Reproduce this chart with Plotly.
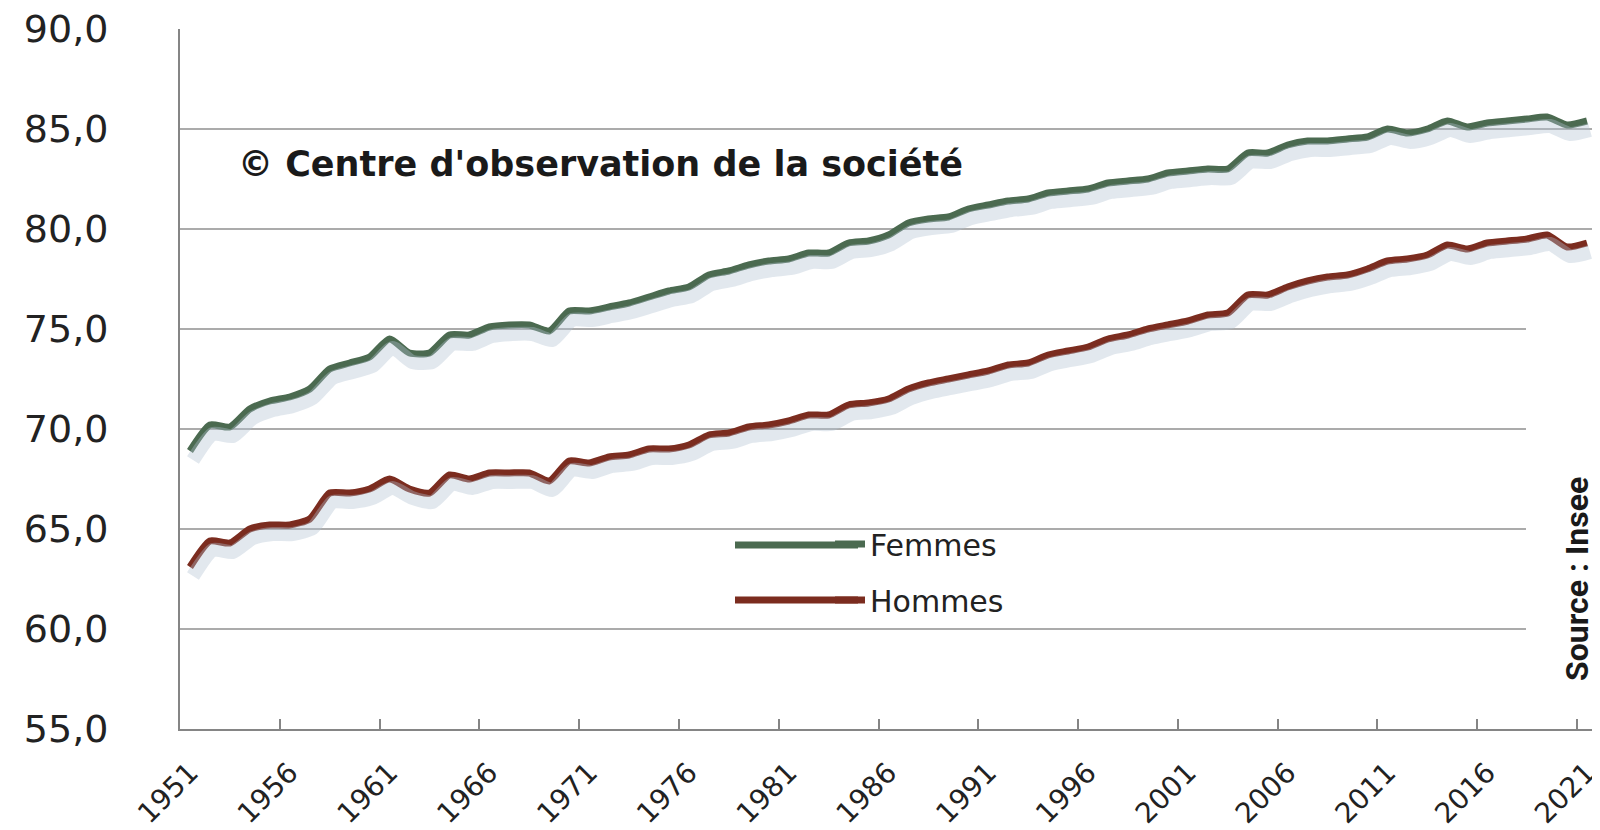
import plotly.graph_objects as go

years = list(range(1951, 2022))
femmes = [68.9, 70.2, 70.1, 71.0, 71.4, 71.6, 72.0, 73.0, 73.3, 73.6,
          74.5, 73.8, 73.8, 74.7, 74.7, 75.1, 75.2, 75.2, 74.9, 75.9,
          75.9, 76.1, 76.3, 76.6, 76.9, 77.1, 77.7, 77.9, 78.2, 78.4,
          78.5, 78.8, 78.8, 79.3, 79.4, 79.7, 80.3, 80.5, 80.6, 81.0,
          81.2, 81.4, 81.5, 81.8, 81.9, 82.0, 82.3, 82.4, 82.5, 82.8,
          82.9, 83.0, 83.0, 83.8, 83.8, 84.2, 84.4, 84.4, 84.5, 84.6,
          85.0, 84.8, 85.0, 85.4, 85.1, 85.3, 85.4, 85.5, 85.6, 85.2,
          85.4]
hommes = [63.1, 64.4, 64.3, 65.0, 65.2, 65.2, 65.5, 66.8, 66.8, 67.0,
          67.5, 67.0, 66.8, 67.7, 67.5, 67.8, 67.8, 67.8, 67.4, 68.4,
          68.3, 68.6, 68.7, 69.0, 69.0, 69.2, 69.7, 69.8, 70.1, 70.2,
          70.4, 70.7, 70.7, 71.2, 71.3, 71.5, 72.0, 72.3, 72.5, 72.7,
          72.9, 73.2, 73.3, 73.7, 73.9, 74.1, 74.5, 74.7, 75.0, 75.2,
          75.4, 75.7, 75.8, 76.7, 76.7, 77.1, 77.4, 77.6, 77.7, 78.0,
          78.4, 78.5, 78.7, 79.2, 79.0, 79.3, 79.4, 79.5, 79.7, 79.1,
          79.3]
tick_labels = [str(y) for y in range(1951, 2022, 5)]
series_names = ["Femmes", "Hommes"]
colors = ["#4b6a50", "#7b2c1f"]

FONT = "DejaVu Sans, Verdana, sans-serif"
X0, X1 = 1950.5, 2021.5
Y0, Y1 = 55, 90

# plot area in pixels
PL, PR, PT, PB = 172, 1589, 21, 721
def px(x):
    return (x - PL) / (PR - PL)
def py(y):
    return (PB - y) / (PB - PT)

fig = go.Figure()

# soft shadows (same data on slightly shifted hidden axes)
for vals in (femmes, hommes):
    fig.add_trace(go.Scatter(x=years, y=vals, mode="lines", xaxis="x2", yaxis="y2",
                             line=dict(color="rgba(180,195,210,0.38)", width=14, shape="spline", smoothing=0.6),
                             showlegend=False, hoverinfo="skip"))

for name, vals, col in zip(series_names, (femmes, hommes), colors):
    fig.add_trace(go.Scatter(x=years, y=vals, mode="lines", name=name, legendgroup=name,
                             line=dict(color=col, width=7, shape="spline", smoothing=0.6)))

fig.update_layout(
    width=1600, height=830,
    margin=dict(l=PL, r=1600 - PR, t=PT, b=830 - PB),
    paper_bgcolor="white", plot_bgcolor="white",
    separators=", ",
    font=dict(family=FONT, color="#222222"),
    xaxis=dict(range=[X0, X1], tickmode="array", tickvals=list(range(1951, 2022, 5)),
               ticktext=tick_labels, tickangle=-45, ticks="", showgrid=False,
               showline=True, linecolor="#858585", linewidth=2,
               tickfont=dict(size=28, family=FONT, color="#222222"),
               ticklabelstandoff=14, ticklabeloverflow="allow", automargin=False,
               minor=dict(ticks="inside", tickmode="array",
                          tickvals=[y + 0.5 for y in range(1955, 2021, 5)],
                          ticklen=10, tickwidth=2, tickcolor="#858585", showgrid=False),
               zeroline=False),
    yaxis=dict(range=[Y0, Y1], dtick=5, tick0=55, tickformat=".1f", ticks="",
               showgrid=True, gridcolor="#ababab", gridwidth=2,
               showline=True, linecolor="#858585", linewidth=2,
               tickfont=dict(size=38, family=FONT, color="#222222"),
               ticklabelstandoff=62, ticklabeloverflow="allow", automargin=False, zeroline=False),
    xaxis2=dict(range=[X0 - 0.15, X1 - 0.15], overlaying="x", visible=False),
    yaxis2=dict(range=[Y0 + 0.45, Y1 + 0.45], overlaying="y", visible=False),
    showlegend=True,
    legend=dict(x=px(822), y=py(510), xanchor="left", yanchor="top",
                bgcolor="rgba(0,0,0,0)", font=dict(size=30, family=FONT, color="#222222"),
                tracegroupgap=14, itemwidth=30),
)

# white box behind the source note (covers gridlines)
fig.add_shape(type="rect", xref="paper", yref="paper", x0=px(1518), x1=1.02,
              y0=0.025, y1=0.60, fillcolor="white", line=dict(width=0), layer="above")

# longer legend keys, as in the reference
for yy, col in zip((537, 592), colors):
    fig.add_shape(type="line", xref="paper", yref="paper", x0=px(727), x1=px(850),
                  y0=py(yy), y1=py(yy), line=dict(color=col, width=7), layer="above")

fig.add_annotation(text="© Centre d'observation de la société", xref="paper", yref="paper",
                   x=px(228), y=py(156), xanchor="left", yanchor="middle",
                   showarrow=False, font=dict(size=35, family="DejaVu Sans", color="#1a1a1a", weight="bold"))

fig.add_annotation(text="Source : Insee", xref="paper", yref="paper",
                   x=px(1569), y=py(571), xanchor="center", yanchor="middle",
                   textangle=-90, showarrow=False,
                   font=dict(size=32, family="Liberation Sans Narrow, Roboto, sans-serif", color="#1a1a1a", weight="bold"))

fig.write_html("out.html")
